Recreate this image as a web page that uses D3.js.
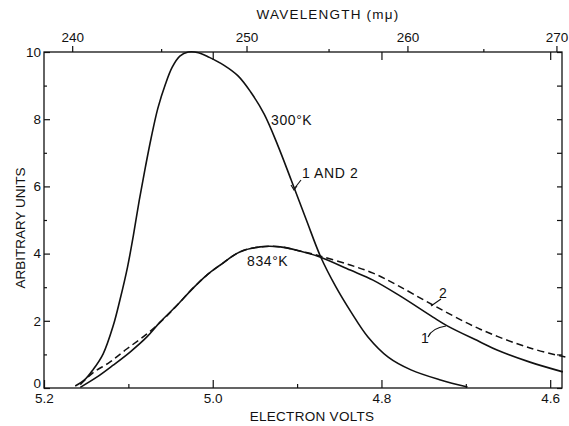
<!DOCTYPE html>
<html lang="en">
<head>
<meta charset="UTF-8">
<title>Absorption spectrum</title>
<script src="https://cdn.jsdelivr.net/npm/d3@7"></script>
<style>
  body { margin: 0; background: #fff; }
  text { font-family: "Liberation Sans", Arial, sans-serif; fill: #111; }
</style>
</head>
<body>
<script>
// values: electron volts vs arbitrary units
var ev300 = [5.163, 5.152, 5.142, 5.130, 5.118, 5.110, 5.101, 5.094, 5.087, 5.080, 5.073, 5.065, 5.056, 5.048, 5.039, 5.029, 5.017, 5.004, 4.987, 4.970, 4.955, 4.939, 4.923, 4.907, 4.889, 4.872, 4.854, 4.836, 4.816, 4.792, 4.765, 4.730, 4.698];
var val300 = [0.06, 0.24, 0.54, 1.01, 1.85, 2.62, 3.60, 4.55, 5.60, 6.55, 7.44, 8.33, 9.05, 9.55, 9.88, 10.0, 9.98, 9.84, 9.61, 9.29, 8.81, 8.15, 7.23, 6.19, 5.00, 3.90, 3.01, 2.26, 1.52, 0.92, 0.54, 0.24, 0.03];

var ev834a = [5.157, 5.137, 5.118, 5.098, 5.078, 5.0625, 5.042, 5.023, 5.007, 4.991, 4.968, 4.944, 4.920, 4.897, 4.873, 4.837, 4.810, 4.778, 4.739, 4.722, 4.683, 4.663, 4.624, 4.585];
var val834a = [0.02, 0.33, 0.68, 1.07, 1.52, 1.96, 2.47, 2.98, 3.36, 3.66, 4.05, 4.20, 4.20, 4.08, 3.90, 3.51, 3.21, 2.74, 2.11, 1.85, 1.37, 1.13, 0.77, 0.48];

var ev834b = [5.157, 5.142, 5.122, 5.102, 5.078, 5.057, 5.042, 5.023, 5.007, 4.991, 4.968, 4.944, 4.920, 4.897, 4.873, 4.837, 4.810, 4.782, 4.739, 4.683, 4.624, 4.582];
var val834b = [0.10, 0.45, 0.77, 1.16, 1.61, 2.08, 2.47, 2.98, 3.36, 3.66, 4.05, 4.20, 4.20, 4.08, 3.93, 3.66, 3.42, 3.07, 2.47, 1.75, 1.19, 0.92];

var evTicks = [5.2, 5.0, 4.8, 4.6];
var evMinor = [5.1, 4.9, 4.7];
var yTicks = [0, 2, 4, 6, 8, 10];
var yMinor = [1, 3, 5, 7, 9];
var nmTicks = [240, 250, 260, 270];
var nmMinor = [245, 255, 265];

var W = 569, H = 426;
var pL = 44, pR = 562, pT = 52, pB = 388;

var svg = d3.select('body').append('svg')
  .attr('width', W).attr('height', H);

var x = d3.scaleLinear().domain([5.2, 4.586]).range([pL, pR]);
var y = d3.scaleLinear().domain([0, 10]).range([pB, pT]);
var nmX = function(nm) { return x(1239.84 / nm); };

// frame
svg.append('rect')
  .attr('x', pL).attr('y', pT)
  .attr('width', pR - pL).attr('height', pB - pT)
  .attr('fill', 'none').attr('stroke', '#111').attr('stroke-width', 1.3);

// bottom axis, ticks inside
svg.append('g').attr('transform', 'translate(0,' + pB + ')')
  .call(d3.axisBottom(x).tickValues(evTicks).tickSize(-8).tickPadding(5).tickFormat(d3.format('.1f')));
svg.append('g').attr('transform', 'translate(0,' + pB + ')')
  .call(d3.axisBottom(x).tickValues(evMinor).tickSize(-4).tickFormat(''));
// same ev ticks on top, inside
svg.append('g').attr('transform', 'translate(0,' + pT + ')')
  .call(d3.axisTop(x).tickValues(evTicks.slice(1)).tickSize(-8).tickFormat(''));

// left axis
var yAx = svg.append('g').attr('transform', 'translate(' + pL + ',0)')
  .call(d3.axisLeft(y).tickValues(yTicks).tickSize(-6).tickPadding(3));
yAx.selectAll('.tick').filter(function(d) { return d === 0; })
  .select('text').attr('dy', '-0.05em');
svg.append('g').attr('transform', 'translate(' + pL + ',0)')
  .call(d3.axisLeft(y).tickValues(yMinor).tickSize(-3).tickFormat(''));
// right axis ticks
svg.append('g').attr('transform', 'translate(' + pR + ',0)')
  .call(d3.axisRight(y).tickValues(yTicks.concat(yMinor)).tickSize(-5).tickFormat(''));

// top wavelength axis
var tAxis = svg.append('g').attr('transform', 'translate(0,' + pT + ')');
tAxis.selectAll('line.maj').data(nmTicks).enter().append('line').attr('class', 'maj')
  .attr('x1', nmX).attr('x2', nmX).attr('y1', 0).attr('y2', -6)
  .attr('stroke', '#111').attr('stroke-width', 1.2);
tAxis.selectAll('line.min').data(nmMinor).enter().append('line').attr('class', 'min')
  .attr('x1', nmX).attr('x2', nmX).attr('y1', 0).attr('y2', -3)
  .attr('stroke', '#111').attr('stroke-width', 1.2);
tAxis.selectAll('text').data(nmTicks).enter().append('text')
  .attr('x', nmX).attr('y', -10).attr('text-anchor', 'middle')
  .attr('font-size', 13.5).text(function(d) { return d; });

svg.selectAll('.domain').remove();
svg.selectAll('.tick line').attr('stroke', '#111').attr('stroke-width', 1.2);
svg.selectAll('.tick text').attr('font-size', 13.5).attr('fill', '#111')
  .attr('font-family', '"Liberation Sans", Arial, sans-serif');

// curves
var line = function(xs, ys) {
  return d3.line()
    .x(function(d, i) { return x(xs[i]); })
    .y(function(d, i) { return y(ys[i]); })
    .curve(d3.curveCatmullRom.alpha(0.5))(xs);
};
svg.append('path').attr('d', line(ev300, val300))
  .attr('fill', 'none').attr('stroke', '#111').attr('stroke-width', 1.6);
svg.append('path').attr('d', line(ev834a, val834a))
  .attr('fill', 'none').attr('stroke', '#111').attr('stroke-width', 1.6);
svg.append('path').attr('d', line(ev834b, val834b))
  .attr('fill', 'none').attr('stroke', '#111').attr('stroke-width', 1.5)
  .attr('stroke-dasharray', '7,4');

// titles
svg.append('text').attr('x', 328).attr('y', 19).attr('text-anchor', 'middle')
  .attr('font-size', 13.5).attr('letter-spacing', 1.2).text('WAVELENGTH (mμ)');
svg.append('text').attr('x', 312).attr('y', 421).attr('text-anchor', 'middle')
  .attr('font-size', 13.5).attr('letter-spacing', 0.3).text('ELECTRON VOLTS');
svg.append('text').attr('transform', 'translate(25,228) rotate(-90)')
  .attr('text-anchor', 'middle').attr('font-size', 13.5).text('ARBITRARY UNITS');

// curve labels
var label = function(t, lx, ly) {
  svg.append('text').attr('x', lx).attr('y', ly).attr('font-size', 14)
    .attr('letter-spacing', 0.6).text(t);
};
label('300°K', 271, 125);
label('1 AND 2', 302, 178);
label('834°K', 247, 266);
label('2', 439, 298);
label('1', 421, 343);

// leaders
var lead = function(dpath) {
  svg.append('path').attr('d', dpath).attr('fill', 'none')
    .attr('stroke', '#111').attr('stroke-width', 1.1);
};
lead('M301,180 L294,189');
lead('M291,185 L294,190 L297,186');
lead('M441,299 L431,306');
lead('M428,337 Q432,328 446,326');
</script>
</body>
</html>
